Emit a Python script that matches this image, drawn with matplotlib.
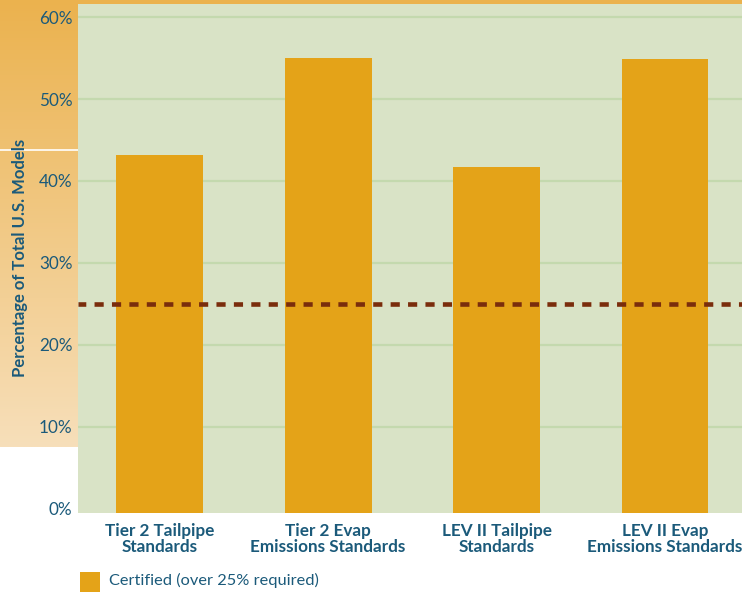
#!/usr/bin/env python3

import numpy as np
import matplotlib.pyplot as plt
from matplotlib.patches import Rectangle
from matplotlib.colors import LinearSegmentedColormap

# Share of models certified to each standard (%)
CATEGORIES = [
    "Tier 2 Tailpipe\nStandards",
    "Tier 2 Evap\nEmissions Standards",
    "LEV II Tailpipe\nStandards",
    "LEV II Evap\nEmissions Standards",
]
CERTIFIED = [43.2, 55.0, 41.7, 54.9]
REQUIRED = 25
Y_TICKS = [0, 10, 20, 30, 40, 50, 60]
Y_TICK_LABELS = ["0%", "10%", "20%", "30%", "40%", "50%", "60%"]
LEGEND_LABEL = "Certified (over 25% required)"
Y_LABEL = "Percentage of Total U.S. Models"

BAR_COLOR = "#E4A318"
BG_COLOR = "#D9E3C6"
GRID_COLOR = "#C4D9AE"
TEXT_COLOR = "#1B5A7A"
LINE_COLOR = "#7A2D0C"
ORANGE_TOP = "#EBB24E"
ORANGE_BOTTOM = "#F7DFBA"

W, H = 742, 593
fig = plt.figure(figsize=(W / 100, H / 100), dpi=100)
plt.rcParams["font.family"] = ["Lato", "DejaVu Sans"]

# left gradient band behind tick labels
band = fig.add_axes([0, (H - 447) / H, 78 / W, 447 / H])
grad = np.linspace(0, 1, 256).reshape(-1, 1)
cmap = LinearSegmentedColormap.from_list("band", [ORANGE_TOP, ORANGE_BOTTOM])
band.imshow(grad, aspect="auto", cmap=cmap, extent=[0, 1, 0, 1], origin="upper")
band.axhline(1 - 150 / 447, color="white", lw=1.2)
band.axis("off")

# top strip
fig.patches.append(Rectangle((0, (H - 4) / H), 1, 4 / H, transform=fig.transFigure,
                             facecolor=ORANGE_TOP, edgecolor="none", zorder=0))

ax = fig.add_axes([78 / W, (H - 513) / H, 664 / W, 509 / H])
ax.set_facecolor(BG_COLOR)
y_bottom = -0.55
x = np.arange(len(CATEGORIES))
ax.bar(x, np.array(CERTIFIED) - y_bottom, bottom=y_bottom, width=0.516,
       color=BAR_COLOR, zorder=3)
ax.axhline(REQUIRED, color=LINE_COLOR, lw=3.3, linestyle=(0.3, (2.0, 1.8)),
           dash_capstyle="butt", zorder=4)

for t in Y_TICKS[1:]:
    ax.axhline(t, color=GRID_COLOR, lw=1.6, zorder=1)

ax.set_xlim(-0.484, 3.457)
ax.set_ylim(y_bottom, 61.6)
ax.set_yticks(Y_TICKS)
ax.set_yticklabels(Y_TICK_LABELS, color=TEXT_COLOR, fontsize=12.3)
ax.set_xticks(x)
ax.set_xticklabels(CATEGORIES, color=TEXT_COLOR, fontsize=12.3,
                   fontweight="bold", linespacing=1.05)
ax.tick_params(axis="both", length=0, pad=4)
ax.tick_params(axis="x", pad=7)
for s in ax.spines.values():
    s.set_visible(False)

fig.text(20 / W, 1 - 258 / H, Y_LABEL, rotation=90, ha="center", va="center",
         color=TEXT_COLOR, fontsize=12, fontweight="bold")

# legend
fig.patches.append(Rectangle((80 / W, 1 - 592 / H), 20 / W, 20 / H,
                             transform=fig.transFigure, facecolor=BAR_COLOR,
                             edgecolor="none"))
fig.text(109 / W, 1 - 580 / H, LEGEND_LABEL, ha="left", va="center",
         color=TEXT_COLOR, fontsize=11.8)

fig.savefig("out.png", dpi=100)
